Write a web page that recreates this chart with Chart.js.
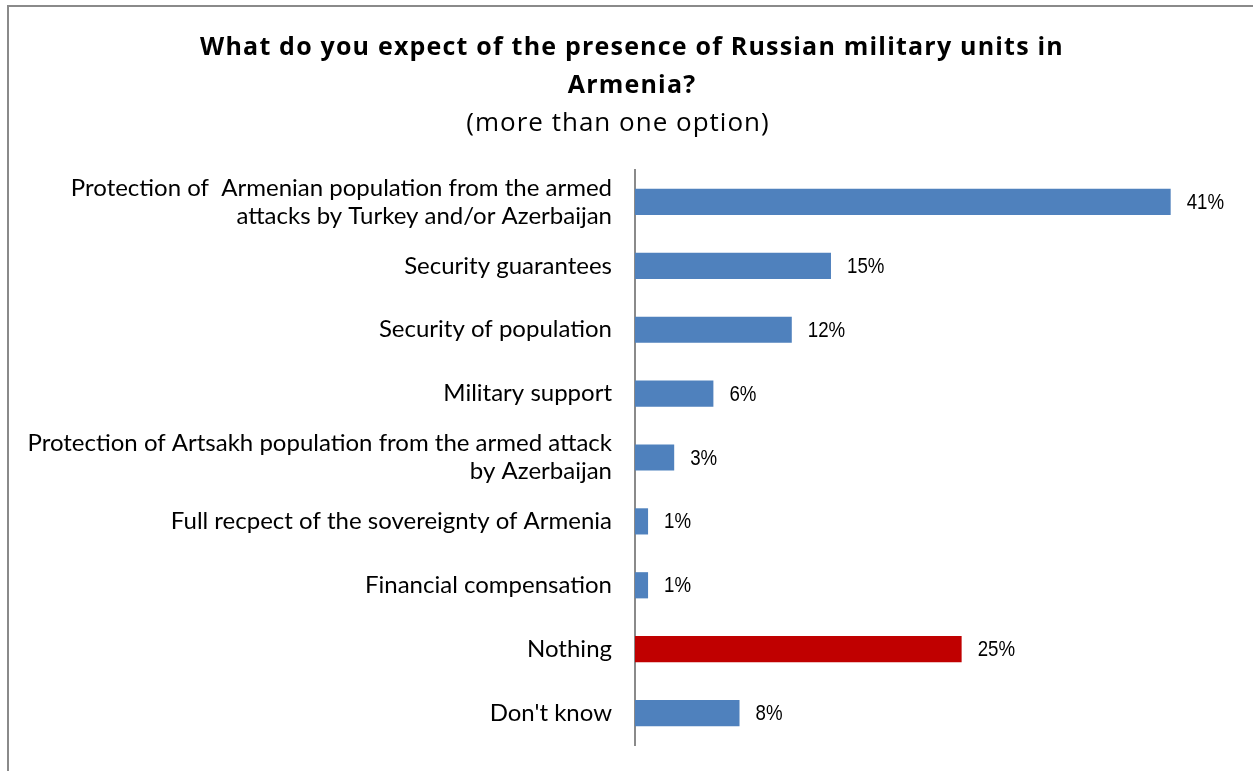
<!DOCTYPE html>
<html>
<head>
<meta charset="utf-8">
<script src="https://cdn.jsdelivr.net/npm/chart.js@4/dist/chart.umd.min.js"></script>
<style>
    html, body { margin: 0; padding: 0; background: #fff; }
    #frame {
        position: absolute; left: 7px; top: 5px; width: 1246px; height: 766px;
        border-left: 2px solid #8a8a8a; border-top: 2px solid #8a8a8a;
    }
    #chart { position: absolute; left: 0; top: 0; }
</style>
</head>
<body>
<div id="frame"></div>
<canvas id="chart" width="1253" height="771"></canvas>
<script>
// answers, top to bottom
const categories = [
    ['Protection of  Armenian population from the armed', 'attacks by Turkey and/or Azerbaijan'],
    'Security guarantees',
    'Security of population',
    'Military support',
    ['Protection of Artsakh population from the armed attack', 'by Azerbaijan'],
    'Full recpect of the sovereignty of Armenia',
    'Financial compensation',
    'Nothing',
    "Don't know"
];
const shares = [41, 15, 12, 6, 3, 1, 1, 25, 8];
const barColors = ['#4F81BD', '#4F81BD', '#4F81BD', '#4F81BD', '#4F81BD', '#4F81BD', '#4F81BD', '#C00000', '#4F81BD'];
const titleLines = ['What do you expect of the presence of Russian military units in', 'Armenia?'];
const subtitleText = '(more than one option)';

// title block drawn at fixed spots above the plot
const headerPlugin = {
    id: 'header',
    afterDraw(chart) {
        const ctx = chart.ctx;
        ctx.save();
        ctx.fillStyle = '#000';
        ctx.textAlign = 'center';
        ctx.textBaseline = 'middle';
        ctx.font = "bold 25px 'Open Sans'";
        ctx.letterSpacing = '1.2px';
        ctx.fillText(titleLines[0], 632, 48);
        ctx.fillText(titleLines[1], 632, 86);
        ctx.font = "26px 'Open Sans'";
        ctx.letterSpacing = '1px';
        ctx.fillText(subtitleText, 618, 124);
        ctx.restore();
    }
};

// percentage next to each bar end, squeezed a little horizontally
const valueLabels = {
    id: 'valueLabels',
    afterDatasetsDraw(chart) {
        const ctx = chart.ctx;
        const meta = chart.getDatasetMeta(0);
        ctx.save();
        ctx.fillStyle = '#000';
        ctx.textAlign = 'left';
        ctx.textBaseline = 'middle';
        ctx.font = "22px 'Liberation Sans'";
        meta.data.forEach((bar, i) => {
            ctx.save();
            ctx.translate(bar.x + 16, bar.y + 1);
            ctx.scale(0.85, 1);
            ctx.fillText(shares[i] + '%', 0, 0);
            ctx.restore();
        });
        ctx.restore();
    }
};

new Chart(document.getElementById('chart'), {
    type: 'bar',
    data: {
        labels: categories,
        datasets: [{
            data: shares,
            backgroundColor: barColors,
            borderWidth: 0,
            barPercentage: 0.82,
            categoryPercentage: 0.5
        }]
    },
    options: {
        indexAxis: 'y',
        responsive: false,
        animation: false,
        layout: { padding: { top: 170, bottom: 26, left: 0, right: 17 } },
        plugins: {
            legend: { display: false },
            tooltip: { enabled: false },
            title: { display: false }
        },
        scales: {
            x: {
                display: false,
                min: 0,
                max: 46
            },
            y: {
                afterFit(axis) {
                    axis.width = 635;
                    axis.paddingTop = 0;
                    axis.paddingBottom = 0;
                },
                grid: { display: false, drawTicks: false },
                border: { display: true, color: '#8a8a8a', width: 2 },
                ticks: {
                    color: '#000',
                    padding: 23,
                    font: { family: 'Lato', size: 24, lineHeight: 1.17 }
                }
            }
        }
    },
    plugins: [headerPlugin, valueLabels]
});
</script>
</body>
</html>
